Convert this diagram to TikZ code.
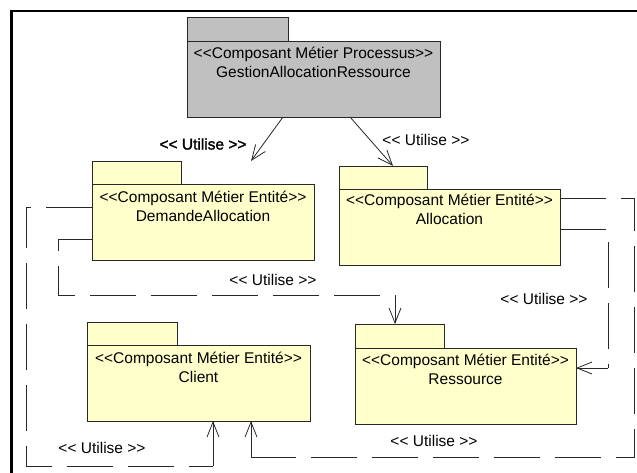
\documentclass[tikz,border=0pt]{standalone}
\usepackage{fontspec}
\setmainfont[Ligatures=TeXOff]{Liberation Sans}
\newfontfamily\lblbold[FakeBold=1.6]{Liberation Sans}
\usetikzlibrary{arrows.meta,calc}
\definecolor{pkgyellow}{RGB}{255,255,204}
\definecolor{pkggray}{RGB}{192,192,192}
\definecolor{linegray}{RGB}{40,40,40}
\tikzset{
  pkgpart/.style={draw=linegray, line width=0.8pt, inner sep=0pt, outer sep=0pt},
  pkgtext/.style={anchor=base, inner sep=0pt, font=\fontsize{15.5}{19}\selectfont},
  lbl/.style={inner sep=0pt, font=\fontsize{15.5}{19}\selectfont},
  dep/.style={draw=linegray, line width=0.8pt, dash pattern=on 46pt off 15pt},
  usearrow/.style={draw=linegray, line width=0.8pt, -{Straight Barb[length=15pt,width=12pt]}},
  frame/.style={draw=black, line width=2.5pt}
}
% #1 name, #2 fill, #3 tabL, #4 tabR, #5 tabTop, #6 bodyTop, #7 bodyR, #8 bottom
\newcommand\umlpkg[8]{%
  \node[pkgpart, fill=#2, anchor=south west, minimum width={#4pt-#3pt}, minimum height={#6pt-#5pt}] (#1tab) at (#3,#6) {};
  \node[pkgpart, fill=#2, anchor=north west, minimum width={#7pt-#3pt}, minimum height={#8pt-#6pt}] (#1) at (#3,#6) {};
}
\begin{document}
\begin{tikzpicture}[x=1pt,y=-1pt]
\useasboundingbox (0,0) rectangle (637,472);
\draw[frame] (11.5,473) -- (11.5,11) -- (638,11);

% packages
\umlpkg{gest}{pkggray}{187}{288}{17}{41}{440}{117}
\node[pkgtext] (gesta) at ($(gest.north)+(0,17.5)$) {<<Composant Métier Processus>>};
\node[pkgtext] (gestb) at ($(gest.north)+(0,36.5)$) {GestionAllocationRessource};

\umlpkg{dem}{pkgyellow}{92}{181}{161}{184}{314}{260}
\node[pkgtext] (dema) at ($(dem.north)+(0,18)$) {<<Composant Métier Entité>>};
\node[pkgtext] (demb) at ($(dem.north)+(0,37)$) {DemandeAllocation};

\umlpkg{alloc}{pkgyellow}{339}{427}{166}{189}{560}{265}
\node[pkgtext] (alloca) at ($(alloc.north)+(0,16.5)$) {<<Composant Métier Entité>>};
\node[pkgtext] (allocb) at ($(alloc.north)+(0,35.5)$) {Allocation};

\umlpkg{client}{pkgyellow}{87}{177}{322}{345}{310}{421}
\node[pkgtext] (clienta) at ($(client.north)+(0,18)$) {<<Composant Métier Entité>>};
\node[pkgtext] (clientb) at ($(client.north)+(0,37)$) {Client};

\umlpkg{ress}{pkgyellow}{355}{444}{324}{348}{576}{424}
\node[pkgtext] (ressa) at ($(ress.north)+(0,17.5)$) {<<Composant Métier Entité>>};
\node[pkgtext] (ressb) at ($(ress.north)+(0,36.5)$) {Ressource};

% connectors
\draw[usearrow] (gest.south -| 283,0) -- (demtab.north -| 251,0);
\draw[usearrow] (gest.south -| 350,0) -- (alloctab.north -| 393,0);
\draw[dep] (dem.west |- 0,239) -- ++(-34,0) |- (395,295);
\draw[usearrow] (395,295) -- (resstab.north -| 395,0);
\draw[dep] (alloc.east |- 0,229) -| (608,368);
\draw[usearrow] (608,368) -- (ress.east |- 0,368);
\draw[dep] (alloc.east |- 0,198) -| (634,457) -- (251,457);
\draw[usearrow] (251,457) -- (client.south -| 251,0);
\draw[dep] (dem.west |- 0,207) -| (26,466) -- (213,466);
\draw[usearrow] (213,466) -- (client.south -| 213,0);

% labels
\node[lbl, font=\fontsize{15.5}{19}\lblbold] (l1) at (203,144) {<< Utilise >>};
\node[lbl] (l2) at (426,140) {<< Utilise >>};
\node[lbl] (l3) at (273,280) {<< Utilise >>};
\node[lbl] (l4) at (544,299) {<< Utilise >>};
\node[lbl] (l5) at (434,441) {<< Utilise >>};
\node[lbl] (l6) at (102,448) {<< Utilise >>};
\end{tikzpicture}
\end{document}
